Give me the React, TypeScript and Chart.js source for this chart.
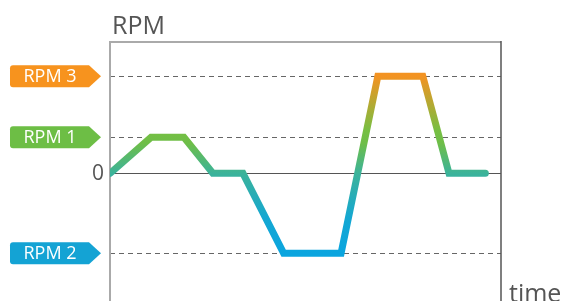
import React, { useEffect, useRef } from "react";
import { Chart, registerables } from "chart.js";

Chart.register(...registerables);

// Data
const timeValues = [0, 10.5, 18.9, 26.3, 34.0, 44.4, 59.1, 68.5, 80.0, 86.7, 96.0];
const rpmValues = [0, 1000, 1000, 0, 0, -2220, -2220, 2700, 2700, 0, 0];

const levelLabels = ["RPM 3", "RPM 1", "RPM 2"];
const levelValues = [2700, 1000, -2220];
const levelColors = ["#F7931E", "#6DBE45", "#14A3D4"];

const zeroLabel = "0";
const yTitle = "RPM";
const xTitle = "time";

const FONT = "'Open Sans', 'Noto Sans', sans-serif";

function lineGradient(context: any) {
  const chart = context.chart;
  const { chartArea, scales } = chart;
  if (!chartArea) return "#3DB396";
  const y = scales.y;
  const yTop = y.getPixelForValue(levelValues[0]);
  const yBot = y.getPixelForValue(levelValues[2]);
  const y1 = y.getPixelForValue(levelValues[1]);
  const y0 = y.getPixelForValue(0);
  const g = chart.ctx.createLinearGradient(0, yTop, 0, yBot);
  const span = yBot - yTop;
  const f = (p: number) => Math.min(1, Math.max(0, (p - yTop) / span));
  g.addColorStop(0, "#F39322");
  g.addColorStop(f(y1 - 6), "#76BF43");
  g.addColorStop(f(y1 + 6), "#6EBE48");
  g.addColorStop(f(y0), "#3BB39A");
  g.addColorStop(f(y0 + 45), "#14A7D2");
  g.addColorStop(1, "#0AA5DF");
  return g;
}

const framePlugin = {
  id: "framePlugin",
  beforeDatasetsDraw(chart: any) {
    const { ctx, chartArea } = chart;
    const y = chart.scales.y;
    const { left, right, top, bottom } = chartArea;
    ctx.save();
    // dashed level lines
    ctx.lineWidth = 1;
    ctx.strokeStyle = "#666";
    ctx.setLineDash([5, 4]);
    levelValues.forEach((v) => {
      const py = Math.round(y.getPixelForValue(v)) + 0.5;
      ctx.beginPath();
      ctx.moveTo(left, py);
      ctx.lineTo(right, py);
      ctx.stroke();
    });
    // zero line
    ctx.setLineDash([]);
    ctx.strokeStyle = "#555";
    const pz = Math.round(y.getPixelForValue(0)) + 0.5;
    ctx.beginPath();
    ctx.moveTo(left, pz);
    ctx.lineTo(right, pz);
    ctx.stroke();
    // frame
    ctx.strokeStyle = "#aaa";
    ctx.lineWidth = 2;
    ctx.beginPath();
    ctx.moveTo(left, bottom);
    ctx.lineTo(left, top);
    ctx.lineTo(right, top);
    ctx.stroke();
    ctx.strokeStyle = "#555";
    ctx.lineWidth = 1.5;
    ctx.beginPath();
    ctx.moveTo(right, top - 1);
    ctx.lineTo(right, bottom);
    ctx.stroke();
    ctx.restore();
  },
  afterDraw(chart: any) {
    const { ctx, chartArea } = chart;
    const y = chart.scales.y;
    ctx.save();
    // tags
    levelValues.forEach((v, i) => {
      const cy = y.getPixelForValue(v);
      const x0 = 10;
      const xb = 89;
      const xt = 101;
      const h = 11;
      const r = 3;
      ctx.fillStyle = levelColors[i];
      ctx.beginPath();
      ctx.moveTo(x0 + r, cy - h);
      ctx.lineTo(xb, cy - h);
      ctx.lineTo(xt, cy);
      ctx.lineTo(xb, cy + h);
      ctx.lineTo(x0 + r, cy + h);
      ctx.quadraticCurveTo(x0, cy + h, x0, cy + h - r);
      ctx.lineTo(x0, cy - h + r);
      ctx.quadraticCurveTo(x0, cy - h, x0 + r, cy - h);
      ctx.closePath();
      ctx.fill();
      ctx.fillStyle = "#fff";
      ctx.font = `18px ${FONT}`;
      ctx.textAlign = "center";
      ctx.textBaseline = "middle";
      ctx.fillText(levelLabels[i], 50, cy + 1);
    });
    // zero label
    ctx.fillStyle = "#555";
    ctx.font = `21px ${FONT}`;
    ctx.textAlign = "right";
    ctx.textBaseline = "middle";
    ctx.fillText(zeroLabel, 104, y.getPixelForValue(0) + 1);
    // titles
    ctx.font = `25px ${FONT}`;
    ctx.textAlign = "left";
    ctx.textBaseline = "alphabetic";
    ctx.fillText(yTitle, chartArea.left + 2, 34);
    ctx.fillText(xTitle, chartArea.right + 8, 302);
    ctx.restore();
  },
};

export default function App() {
  const canvasRef = useRef<HTMLCanvasElement | null>(null);

  useEffect(() => {
    if (!canvasRef.current) return;
    const chart = new Chart(canvasRef.current, {
      type: "line",
      data: {
        datasets: [
          {
            data: timeValues.map((t, i) => ({ x: t, y: rpmValues[i] })),
            borderColor: lineGradient,
            borderWidth: 7,
            borderCapStyle: "round",
            borderJoinStyle: "miter",
            pointRadius: 0,
            tension: 0,
            fill: false,
            clip: 0,
          } as any,
        ],
      },
      options: {
        animation: false,
        responsive: true,
        maintainAspectRatio: false,
        layout: { padding: { left: 110, right: 62, top: 42, bottom: 10 } },
        plugins: {
          legend: { display: false },
          tooltip: { enabled: false },
          title: { display: false },
        },
        scales: {
          x: { type: "linear", min: 0, max: 100, display: false },
          y: { type: "linear", min: -3800, max: 3650, display: false },
        },
      },
      plugins: [framePlugin],
    });
    return () => chart.destroy();
  }, []);

  return (
    <div
      style={{
        position: "fixed",
        left: 0,
        top: 0,
        width: 563,
        height: 301,
        overflow: "hidden",
        background: "#fff",
      }}
    >
      <div style={{ position: "relative", width: 563, height: 320 }}>
        <canvas ref={canvasRef} />
      </div>
    </div>
  );
}
